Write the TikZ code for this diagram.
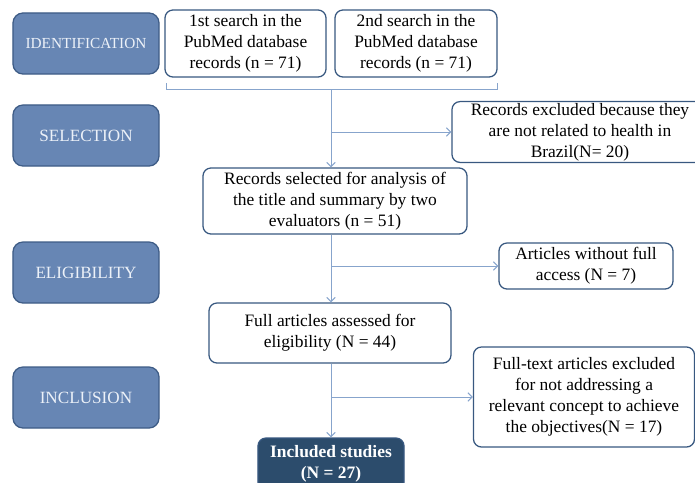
\documentclass[tikz,border=0pt]{standalone}
\usepackage{fontspec}
\setmainfont{Liberation Serif}
\usetikzlibrary{arrows.meta}
\definecolor{stagefill}{RGB}{103,134,180}
\definecolor{stageline}{RGB}{62,92,134}
\definecolor{stagetext}{RGB}{236,241,248}
\definecolor{boxline}{RGB}{56,88,128}
\definecolor{inclfill}{RGB}{44,76,108}
\definecolor{connline}{RGB}{135,164,204}
\begin{document}
\begin{tikzpicture}
			[x=0.025cm,y=-0.025cm,
			stage/.style={rectangle,rounded corners=0.25cm,draw=stageline,line width=0.9pt,fill=stagefill,text=stagetext,minimum width=3.65cm,minimum height=1.525cm,font=\fontsize{12.2}{15}\selectfont},
			box/.style={rectangle,rounded corners=0.2cm,draw=boxline,line width=0.9pt,fill=white,align=center,inner sep=1pt,font=\fontsize{12.4}{15}\selectfont},
			conn/.style={draw=connline,line width=0.7pt},
			>={Straight Barb[length=3pt,width=6pt]}]
			\useasboundingbox (0,0) rectangle (695,482);
			\node[stage,name=ident] at (86,43.5) {\fontsize{10.9}{12}\selectfont IDENTIFICATION};
			\node[stage,name=selec] at (86,135.5) {SELECTION};
			\node[stage,name=elig] at (86,272.5) {ELIGIBILITY};
			\node[stage,name=inclu] at (86,397.5) {INCLUSION};
			\node[box,name=srch1,minimum width=4.025cm,minimum height=1.675cm] at (245.5,43.5) {1st search in the\\PubMed database\\records (n = 71)};
			\node[box,name=srch2,minimum width=4.05cm,minimum height=1.675cm] at (416,43.5) {2nd search in the\\PubMed database\\records (n = 71)};
			\node[box,name=excl,minimum width=6.4cm,minimum height=1.5cm] at (580,132) {Records excluded because they\\are not related to health in\\Brazil(N= 20)};
			\node[box,name=chosen,minimum width=6.6cm,minimum height=1.65cm] at (335,201) {Records selected for analysis of\\the title and summary by two\\evaluators (n = 51)};
			\node[box,name=noacc,minimum width=4.35cm,minimum height=1.15cm] at (586,266) {Articles without full\\access (N = 7)};
			\node[box,name=full,minimum width=6.05cm,minimum height=1.5cm] at (330,333) {Full articles assessed for\\eligibility (N = 44)};
			\node[box,name=ftext,minimum width=5.525cm,minimum height=2.5cm] at (584,397) {Full-text articles excluded\\for not addressing a\\relevant concept to achieve\\the objectives(N = 17)};
			\node[box,name=incl,fill=inclfill,text=white,minimum width=3.65cm,minimum height=1.3cm,font=\fontsize{12.4}{15}\selectfont\bfseries] at (331,464) {Included studies\\(N = 27)};
			\coordinate (bl) at (166,83);
			\coordinate (br) at (497,83);
			\coordinate (bm) at (331,89);
			\draw[conn](bl)--++(0,6)-|(br);
			\draw[conn,->](bm)--(bm|-chosen.north);
			\draw[conn,->](bm|-excl.west)--(excl.west);
			\draw[conn,->](chosen.south-|bm)--(bm|-full.north);
			\draw[conn,->](bm|-noacc.west)--(noacc.west);
			\draw[conn,->](full.south-|bm)--(bm|-incl.north);
			\draw[conn,->](bm|-ftext.west)--(ftext.west);
		\end{tikzpicture}
\end{document}
